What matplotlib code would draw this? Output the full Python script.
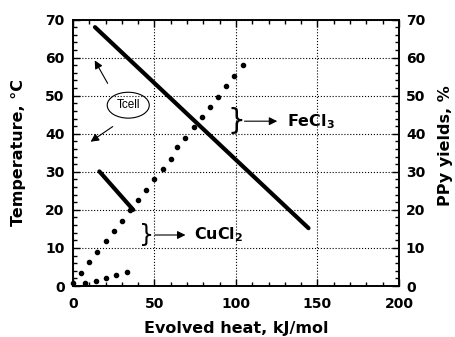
import matplotlib
matplotlib.use("Agg")
import matplotlib.pyplot as plt
from matplotlib.ticker import MultipleLocator
from matplotlib.patches import Ellipse

plt.rcParams['mathtext.fontset'] = 'dejavusans'

# Tcell lines (left axis, temperature)
fecl3_t_x = [13.5, 144.5]
fecl3_t_y = [68.0, 15.2]
cucl2_t_x = [16.2, 37.0]
cucl2_t_y = [30.1, 20.0]

# PPy yields (right axis, %)
fecl3_y_x = [5, 10, 15, 20, 25, 30, 35, 40, 45, 50, 55, 60,
              64, 69, 74, 79, 84, 89, 94, 99, 104]
fecl3_y_y = [3.5, 6.4, 9.0, 11.9, 14.5, 17.2, 20.0, 22.6, 25.3, 28.1, 30.8,
             33.4, 36.4, 39.0, 41.7, 44.4, 47.0, 49.7, 52.5, 55.2, 58.0]
cucl2_y_x = [0.0, 7.4, 13.9, 20.2, 26.4, 32.9]
cucl2_y_y = [0.9, 0.7, 1.4, 2.1, 3.0, 3.6]

xticks = [0, 50, 100, 150, 200]
yticks = [0, 10, 20, 30, 40, 50, 60, 70]

tickfont = dict(family='DejaVu Sans', weight='bold', size=10)
labfont = dict(family='DejaVu Sans', weight='bold', size=11.5)

fig = plt.figure(figsize=(4.55, 3.37), dpi=100)
ax = fig.add_axes([0.1604, 0.1513, 0.7165, 0.7907])
ax2 = ax.twinx()

ax.plot(fecl3_t_x, fecl3_t_y, color='k', lw=3, solid_capstyle='round')
ax.plot(cucl2_t_x, cucl2_t_y, color='k', lw=3, solid_capstyle='round')
ax2.plot(fecl3_y_x, fecl3_y_y, 'o', color='k', ms=3, clip_on=False)
ax2.plot(cucl2_y_x, cucl2_y_y, 'o', color='k', ms=3, clip_on=False)

for a in (ax, ax2):
    a.set_xlim(0, 200)
    a.set_ylim(0, 70)
    a.yaxis.set_minor_locator(MultipleLocator(2))
    for s in a.spines.values():
        s.set_linewidth(1.2)

ax.set_xticks(xticks)
ax.set_yticks(yticks)
ax2.set_yticks(yticks)
ax.xaxis.set_minor_locator(MultipleLocator(10))
ax.tick_params(which='both', direction='in', top=True, width=1)
ax.tick_params(which='major', length=5)
ax.tick_params(which='minor', length=3)
ax.tick_params(axis='x', pad=8)
ax.tick_params(axis='y', pad=6)
ax2.tick_params(which='both', direction='in', width=1)
ax2.tick_params(which='major', length=5, pad=5)
ax2.tick_params(which='minor', length=3)

ax.set_xticklabels([str(v) for v in xticks], **tickfont)
ax.set_yticklabels([str(v) for v in yticks], **tickfont)
ax2.set_yticklabels([str(v) for v in yticks], **tickfont)

ax.grid(True, which='major', linestyle=':', color='k', lw=0.8)

ax.set_xlabel('Evolved heat, kJ/mol', **labfont)
ax.xaxis.set_label_coords(0.5, -0.13)
ax.set_ylabel('Temperature, \u00b0C', **labfont)
ax.yaxis.set_label_coords(-0.145, 0.5)
ax2.set_ylabel('PPy yields, %', **labfont)
ax2.yaxis.set_label_coords(1.12, 0.525)

# Tcell callout
ax.add_patch(Ellipse((33.9, 47.5), 25.8, 6.8, fill=False, ec='k', lw=0.8))
ax.text(33.9, 47.5, 'Tcell', ha='center', va='center', fontsize=8.5,
        family='Liberation Sans')
arrow = dict(arrowstyle='-|>', color='k', lw=0.8, mutation_scale=12)
ax.annotate('', xy=(12.5, 59.9), xytext=(22.1, 52.6), arrowprops=arrow)
ax.annotate('', xy=(9.4, 37.5), xytext=(25.8, 42.3), arrowprops=arrow)

# FeCl3 / CuCl2 labels
ax.text(100.4, 43.3, '}', ha='center', va='center', fontsize=20,
        family='DejaVu Sans')
ax.annotate('', xy=(127, 43.3), xytext=(103.5, 43.3), arrowprops=arrow)
ax.text(131, 43.3, 'FeCl$_\\mathbf{3}$', ha='left', va='center', **labfont)

ax.text(45.2, 13.4, '}', ha='center', va='center', fontsize=17,
        family='DejaVu Sans')
ax.annotate('', xy=(70.7, 13.4), xytext=(48.5, 13.4), arrowprops=arrow)
ax.text(74.5, 13.4, 'CuCl$_\\mathbf{2}$', ha='left', va='center', **labfont)

fig.savefig('out.png', dpi=100)
